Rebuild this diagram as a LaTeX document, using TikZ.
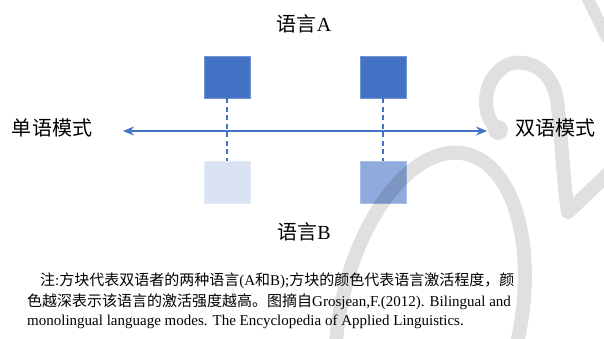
\documentclass[tikz,border=0pt]{standalone}
\usepackage{fontspec}
\setmainfont{Liberation Serif}
\newfontfamily\cjk{Noto Sans CJK SC}
\usetikzlibrary{arrows.meta}
\definecolor{dblue}{HTML}{4472C4}
\definecolor{mblue}{HTML}{8FAADC}
\definecolor{lblue}{HTML}{DAE3F3}
\newcommand\zh[1]{{\cjk #1}}
\begin{document}
\begin{tikzpicture}[x=1pt,y=-1pt,
  sq/.style={minimum width=46pt,minimum height=42pt,inner sep=0pt,outer sep=0pt,draw=#1!75!white,fill=#1,line width=0.6pt},
  lab/.style={font=\fontsize{20}{24}\selectfont,inner sep=0pt},
  captext/.style={font=\fontsize{15}{18}\selectfont,anchor=base west,inner sep=0pt},
  link/.style={draw=dblue,line width=1.4pt,dash pattern=on 5pt off 3.5pt},
  axis/.style={draw=dblue,line width=1.8pt,{Stealth[length=11pt,width=9pt]}-{Stealth[length=11pt,width=9pt]}},
  wm/.style={line width=14pt,line cap=round,line join=round}]
\useasboundingbox (0,0) rectangle (604,338);
% squares
\node[sq=dblue] (a1) at (227,77) {};
\node[sq=dblue] (a2) at (383,77) {};
\node[sq=lblue] (b1) at (227,182) {};
\node[sq=mblue] (b2) at (383,182) {};
% dashed links
\draw[link] (a1.south) -- (b1.north);
\draw[link] (a2.south) -- (b2.north);
% axis
\coordinate (aL) at (123,131);
\coordinate (aR) at (487,131);
\draw[axis] (aL) -- (aR);
% labels
\node[lab] (la) at (304,24) {\zh{语言}A};
\node[lab] (lb) at (304,232) {\zh{语言}B};
\node[lab] (ml) at (52,128) {\zh{单语模式}};
\node[lab] (bl) at (555,128) {\zh{双语模式}};
% caption
\node[captext] (c1) at (40,285) {\zh{注}:\zh{方块代表双语者的两种语言}(A\zh{和}B);\zh{方块的颜色代表语言激活程度，颜}};
\node[captext] (c2) at (27,306) {\zh{色越深表示该语言的激活强度越高。图摘自}Grosjean,F.(2012). Bilingual and};
\node[captext] (c3) at (27,325) {monolingual language modes. The Encyclopedia of Applied Linguistics.};
% watermark
\begin{scope}[transparency group, opacity=0.12]
\draw[wm,black,rotate around={-12:(430,320)}] (430,320) ellipse [x radius=90, y radius=170];
\draw[wm,black] (498,130) .. controls (480,115) and (482,80) .. (505,66)
  .. controls (525,56) and (552,68) .. (557,100)
  .. controls (561,130) and (563,180) .. (568,212) -- (612,170);
\fill[black] (498,130) circle (10);
\draw[wm,black,line width=12pt,line cap=butt] (586,-5) -- (608,40);
\end{scope}
\end{tikzpicture}
\end{document}
